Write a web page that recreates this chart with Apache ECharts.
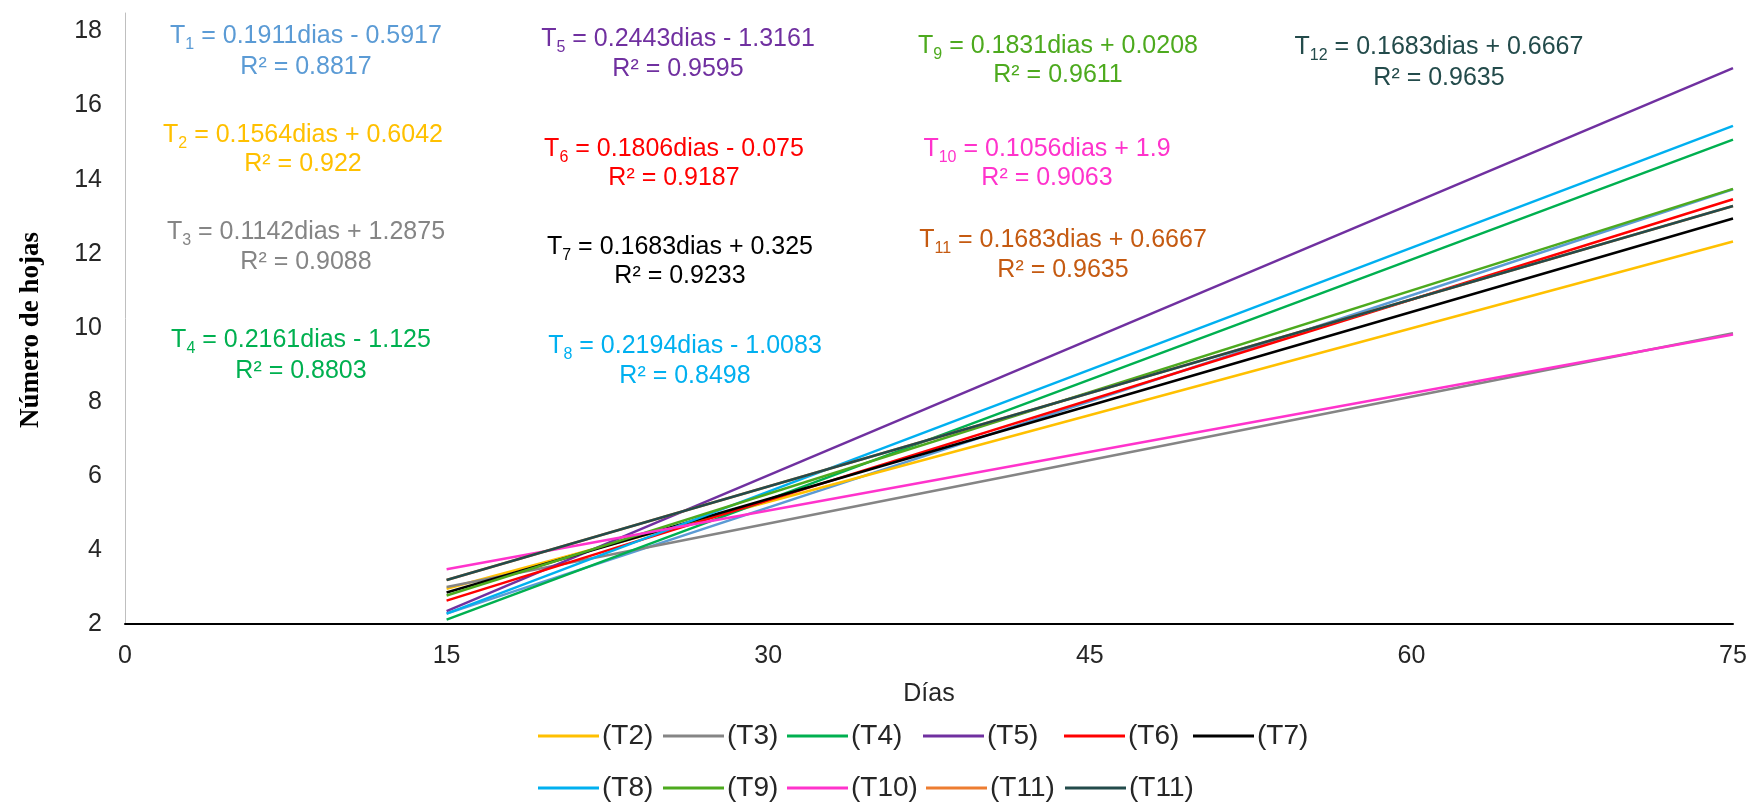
<!DOCTYPE html>
<html>
<head>
<meta charset="utf-8">
<script src="https://cdn.jsdelivr.net/npm/echarts@6/dist/echarts.min.js"></script>
<style>
  html, body { margin: 0; padding: 0; background: #ffffff; }
  #grafico { width: 1754px; height: 803px; }
</style>
</head>
<body>
<div id="grafico"></div>
<script>
// dias de muestreo (extremos de cada recta de tendencia)
var dias = [15, 75];
var tratamientos = ['(T1)', '(T2)', '(T3)', '(T4)', '(T5)', '(T6)', '(T7)', '(T8)', '(T9)', '(T10)', '(T11)', '(T12)'];
var hojasDia15 = [2.28, 2.95, 3.00, 2.12, 2.35, 2.63, 2.85, 2.28, 2.77, 3.48, 3.19, 3.19];
var hojasDia75 = [13.74, 12.33, 9.85, 15.08, 17.01, 13.47, 12.95, 15.45, 13.75, 9.82, 13.29, 13.29];
// textos de las ecuaciones
var ecuaciones = ['0.1911dias - 0.5917', '0.1564dias + 0.6042', '0.1142dias + 1.2875', '0.2161dias - 1.125',
                  '0.2443dias - 1.3161', '0.1806dias - 0.075', '0.1683dias + 0.325', '0.2194dias - 1.0083',
                  '0.1831dias + 0.0208', '0.1056dias + 1.9', '0.1683dias + 0.6667', '0.1683dias + 0.6667'];
var r2 = ['0.8817', '0.922', '0.9088', '0.8803', '0.9595', '0.9187', '0.9233', '0.8498', '0.9611', '0.9063', '0.9635', '0.9635'];
// la leyenda original repite (T11) para T12 y omite T1
var etiquetasLeyenda = ['(T2)', '(T3)', '(T4)', '(T5)', '(T6)', '(T7)', '(T8)', '(T9)', '(T10)', '(T11)', '(T11)'];

var colores = ['#5B9BD5', '#FFC000', '#858585', '#00B050', '#7030A0', '#FF0000', '#000000',
               '#00B0F0', '#4DAA1E', '#FF33CC', '#ED7D31', '#234B4B'];
var coloresTexto = ['#5B9BD5', '#FFC000', '#858585', '#00B050', '#7030A0', '#FF0000', '#000000',
                    '#00B0F0', '#4DAA1E', '#FF33CC', '#C55A11', '#234B4B'];

// posicion de cada ecuacion: [centro x, y linea 1, y linea 2]
var posEcuacion = [[306, 36, 67], [303, 135, 164], [306, 232, 262], [301, 340, 371],
                   [678, 39, 69], [674, 149, 178], [680, 247, 276], [685, 346, 376],
                   [1058, 46, 75], [1047, 149, 178], [1063, 240, 270], [1439, 47, 78]];
// posicion de cada entrada de la leyenda
var posLeyenda = [[533, 734], [658, 734], [782, 734], [918, 734], [1059, 734], [1188, 734],
                  [533, 786], [658, 786], [782, 786], [921, 786], [1060, 786]];

var fuente = '"Liberation Sans", Arial, sans-serif';
var myChart = echarts.init(document.getElementById('grafico'));

var series = tratamientos.map(function (nombre, i) {
  return {
    name: nombre,
    type: 'line',
    data: [[dias[0], hojasDia15[i]], [dias[1], hojasDia75[i]]],
    symbol: 'none',
    silent: true,
    lineStyle: { width: 2.5, color: colores[i] },
    itemStyle: { color: colores[i] },
    z: 2 + i
  };
});

var leyendas = tratamientos.slice(1).map(function (nombre, k) {
  return {
    data: [nombre],
    left: posLeyenda[k][0],
    top: posLeyenda[k][1] - 17,
    icon: 'rect',
    itemWidth: 61,
    itemHeight: 3,
    selectedMode: false,
    formatter: function () { return etiquetasLeyenda[k]; },
    textStyle: { fontSize: 28, fontFamily: fuente, color: '#262626', padding: [0, 0, 0, -2] }
  };
});

var graficos = [];
tratamientos.forEach(function (nombre, i) {
  var num = nombre.replace(/[()T]/g, '');
  graficos.push({
    type: 'text',
    x: posEcuacion[i][0],
    y: posEcuacion[i][1],
    silent: true,
    style: {
      text: '{a|T}{s|' + num + '}{a| = ' + ecuaciones[i] + '}',
      align: 'center',
      verticalAlign: 'middle',
      rich: {
        a: { fontSize: 25, fontFamily: fuente, fill: coloresTexto[i], lineHeight: 31, verticalAlign: 'middle' },
        s: { fontSize: 16, fontFamily: fuente, fill: coloresTexto[i], lineHeight: 16, verticalAlign: 'bottom', padding: [0, 0, -1, 0] }
      }
    }
  });
  graficos.push({
    type: 'text',
    x: posEcuacion[i][0],
    y: posEcuacion[i][2],
    silent: true,
    style: {
      text: 'R² = ' + r2[i],
      align: 'center',
      verticalAlign: 'middle',
      fontSize: 25,
      fontFamily: fuente,
      fill: coloresTexto[i]
    }
  });
});

// titulo del eje y, girado
graficos.push({
  type: 'text',
  x: 31,
  y: 330,
  rotation: Math.PI / 2,
  silent: true,
  style: {
    text: 'Número de hojas',
    align: 'center',
    verticalAlign: 'middle',
    fontSize: 27,
    fontWeight: 'bold',
    fontFamily: '"Liberation Serif", "Times New Roman", serif',
    fill: '#000000'
  }
});

myChart.setOption({
  animation: false,
  backgroundColor: '#ffffff',
  grid: { left: 125, right: 21, top: 13, bottom: 179 },
  xAxis: {
    type: 'value',
    min: 0,
    max: 75,
    interval: 15,
    name: 'Días',
    nameLocation: 'middle',
    nameGap: 58,
    nameTextStyle: { fontSize: 25, fontFamily: fuente, color: '#262626' },
    axisLine: { show: true, lineStyle: { color: '#000000', width: 2 } },
    axisTick: { show: false },
    splitLine: { show: false },
    axisLabel: { fontSize: 25, fontFamily: fuente, color: '#262626', margin: 20 }
  },
  yAxis: {
    type: 'value',
    min: 2,
    max: 18.5,
    interval: 2,
    axisLine: { show: true, lineStyle: { color: '#BFBFBF', width: 1 } },
    axisTick: { show: false },
    splitLine: { show: false },
    axisLabel: { fontSize: 25, fontFamily: fuente, color: '#262626', margin: 23, showMaxLabel: false }
  },
  legend: leyendas,
  graphic: graficos,
  series: series
});
</script>
</body>
</html>
